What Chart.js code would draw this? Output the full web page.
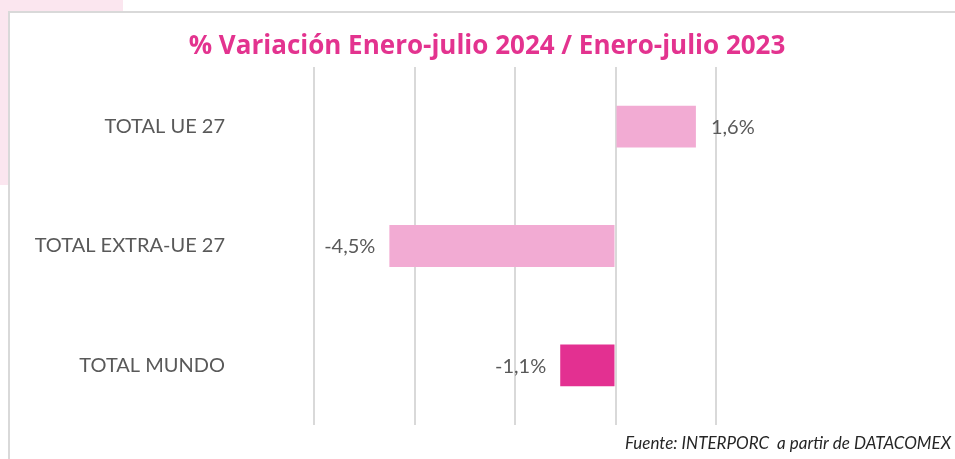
<!DOCTYPE html>
<html lang="es">
<head>
<meta charset="utf-8">
<title>% Variación Enero-julio 2024 / Enero-julio 2023</title>
<script src="https://cdn.jsdelivr.net/npm/chart.js@4"></script>
<style>
  html, body { margin: 0; padding: 0; background: #fff; }
  #wrap { position: relative; width: 955px; height: 459px; overflow: hidden; }
  #esquina { position: absolute; left: 0; top: 0; width: 123px; height: 185px; background: #fbe6ef; }
  #marco { position: absolute; left: 8px; top: 11px; width: 960px; height: 460px;
           background: #fff; border-top: 2px solid #d9d9d9; border-left: 2px solid #d9d9d9; }
  #grafico { position: absolute; left: 0; top: 0; }
</style>
</head>
<body>
<div id="wrap">
  <div id="esquina"></div>
  <div id="marco"></div>
  <canvas id="grafico" width="955" height="459"></canvas>
</div>
<script>
// datos
const categorias = ["TOTAL UE 27", "TOTAL EXTRA-UE 27", "TOTAL MUNDO"];
const variaciones = [1.6, -4.5, -1.1];
const colores = ["#F2ABD3", "#F2ABD3", "#E33091"];
const titulo = "% Variación Enero-julio 2024 / Enero-julio 2023";
const fuente = "Fuente: INTERPORC  a partir de DATACOMEX";

Chart.defaults.font.family = "Lato, 'Open Sans', sans-serif";

function formato(v) {
  return v.toFixed(1).replace(".", ",") + "%";
}

// etiquetas de valor, titulo y fuente
const textos = {
  id: "textos",
  afterDatasetsDraw(chart) {
    const ctx = chart.ctx;
    const meta = chart.getDatasetMeta(0);
    ctx.save();
    ctx.font = "20px Lato";
    ctx.fillStyle = "#595959";
    ctx.textBaseline = "middle";
    meta.data.forEach((bar, i) => {
      const v = variaciones[i];
      if (v >= 0) {
        ctx.textAlign = "left";
        ctx.fillText(formato(v), bar.x + 15, bar.y + 1);
      } else {
        ctx.textAlign = "right";
        ctx.fillText(formato(v), bar.x - 14, bar.y + 1);
      }
    });

    ctx.font = "bold 26px 'Open Sans'";
    ctx.fillStyle = "#E3338F";
    ctx.textAlign = "center";
    ctx.fillText(titulo, 487, 47);

    ctx.font = "italic 17px Lato";
    ctx.fillStyle = "#262626";
    ctx.textAlign = "right";
    ctx.textBaseline = "alphabetic";
    ctx.fillText(fuente, 951, 449);
    ctx.restore();
  }
};

new Chart(document.getElementById("grafico"), {
  type: "bar",
  data: {
    labels: categorias,
    datasets: [{
      data: variaciones,
      backgroundColor: colores,
      borderWidth: 0,
      barPercentage: 0.35,
      categoryPercentage: 1
    }]
  },
  options: {
    indexAxis: "y",
    responsive: false,
    animation: false,
    layout: { padding: { top: 67, bottom: 34, right: 239, left: 0 } },
    plugins: {
      legend: { display: false },
      tooltip: { enabled: false }
    },
    scales: {
      x: {
        min: -6,
        max: 2,
        ticks: { display: false, stepSize: 2 },
        grid: { color: "#d9d9d9", lineWidth: 2, drawTicks: false },
        border: { display: false },
        afterFit(scale) { scale.height = 0; }
      },
      y: {
        ticks: { color: "#595959", font: { size: 20 }, padding: 89 },
        grid: { display: false, drawTicks: false },
        border: { display: false },
        afterFit(scale) {
          scale.width = 314;
          scale.paddingTop = 0;
          scale.paddingBottom = 0;
        }
      }
    }
  },
  plugins: [textos]
});
</script>
</body>
</html>
